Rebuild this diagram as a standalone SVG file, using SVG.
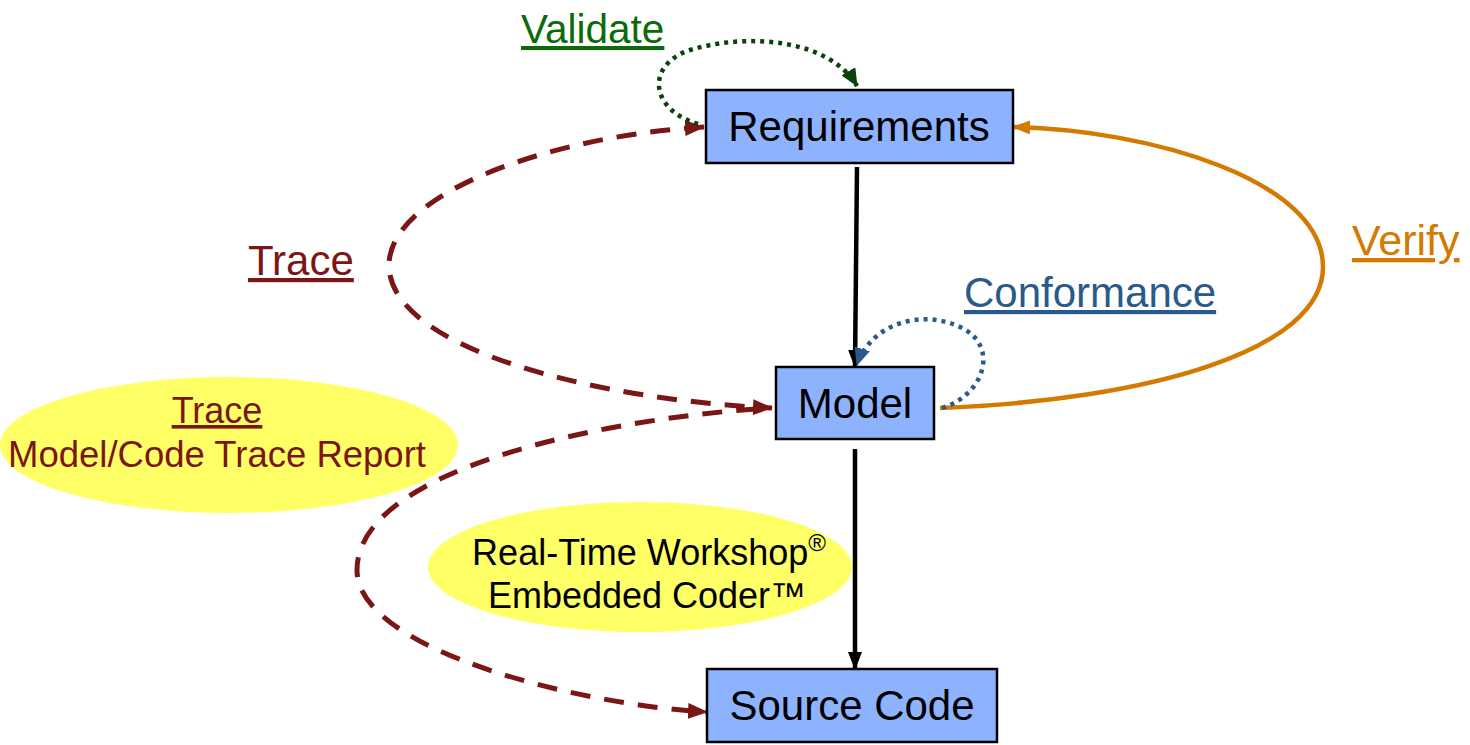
<svg xmlns="http://www.w3.org/2000/svg" width="1470" height="745" viewBox="0 0 1470 745">
  <style>
    .box { fill: #8DB3FF; stroke: #000; stroke-width: 2.5; }
    .lbl { font-family: "Liberation Sans", Arial, sans-serif; }
    .node { font-size: 42px; fill: #000; text-anchor: middle; }
    .ul { text-decoration: underline; }
    .blob { fill: #FFFF66; }
    .solid { fill: none; stroke: #000; stroke-width: 4.5; }
    .trace { fill: none; stroke: #7B1616; stroke-width: 5; stroke-dasharray: 20 14; }
    .verify { fill: none; stroke: #D47A00; stroke-width: 4.5; }
    .valid { fill: none; stroke: #0A420A; stroke-width: 4.5; stroke-dasharray: 4 5; }
    .conf { fill: none; stroke: #2A5A8A; stroke-width: 4.5; stroke-dasharray: 4 5; }
  </style>
  <defs>
    <marker id="ahBlack" viewBox="0 0 18 14" refX="17" refY="7" markerWidth="18" markerHeight="14" markerUnits="userSpaceOnUse" orient="auto">
      <path d="M0,0 L18,7 L0,14 z" fill="#000"/>
    </marker>
    <marker id="ahRed" viewBox="0 0 20 16" refX="19" refY="8" markerWidth="20" markerHeight="16" markerUnits="userSpaceOnUse" orient="auto">
      <path d="M0,0 L20,8 L0,16 z" fill="#7B1616"/>
    </marker>
    <marker id="ahRedStart" viewBox="0 0 20 16" refX="19" refY="8" markerWidth="20" markerHeight="16" markerUnits="userSpaceOnUse" orient="auto-start-reverse">
      <path d="M0,0 L20,8 L0,16 z" fill="#7B1616"/>
    </marker>
    <marker id="ahOrange" viewBox="0 0 18 14" refX="17" refY="7" markerWidth="18" markerHeight="14" markerUnits="userSpaceOnUse" orient="auto">
      <path d="M0,0 L18,7 L0,14 z" fill="#D47A00"/>
    </marker>
    <marker id="ahGreen" viewBox="0 0 18 16" refX="17" refY="8" markerWidth="18" markerHeight="16" markerUnits="userSpaceOnUse" orient="auto">
      <path d="M0,0 L18,8 L0,16 z" fill="#0A420A"/>
    </marker>
    <marker id="ahBlue" viewBox="0 0 18 16" refX="17" refY="8" markerWidth="18" markerHeight="16" markerUnits="userSpaceOnUse" orient="auto">
      <path d="M0,0 L18,8 L0,16 z" fill="#2A5A8A"/>
    </marker>
  </defs>

  <rect width="1470" height="745" fill="#fff"/>

  <!-- tool callouts -->
  <g id="traceReport">
    <ellipse class="blob" cx="229" cy="445" rx="229" ry="68"/>
    <text class="lbl ul" x="217" y="423" font-size="36" fill="#7B1616" text-anchor="middle">Trace</text>
    <text class="lbl" x="217" y="467" font-size="36.5" fill="#7B1616" text-anchor="middle">Model/Code Trace Report</text>
  </g>
  <g id="coder">
    <ellipse class="blob" cx="640" cy="567" rx="212" ry="65"/>
    <text class="lbl" x="649" y="565" font-size="36" fill="#000" text-anchor="middle">Real-Time Workshop<tspan font-size="24" dy="-14">®</tspan></text>
    <text class="lbl" x="647" y="608" font-size="36" fill="#000" text-anchor="middle">Embedded Coder™</text>
  </g>

  <!-- connectors -->
  <g id="connectors">
    <path class="solid" d="M857,167 L855,367" marker-end="url(#ahBlack)"/>
    <path class="solid" d="M855,449 L855,669" marker-end="url(#ahBlack)"/>
    <path class="trace" d="M704,127 C560,135 390,190 389,265 C389,350 600,400 772,408" marker-start="url(#ahRedStart)" marker-end="url(#ahRed)"/>
    <path class="trace" d="M756,409 C600,420 357,470 357,570 C357,650 580,705 707,712" marker-end="url(#ahRed)"/>
    <path class="verify" d="M940,408 C1150,400 1323,350 1323,267 C1323,180 1150,130 1013,127" marker-end="url(#ahOrange)"/>
    <path class="valid" d="M698,124 C650,110 645,65 690,50 C750,32 830,40 857,86" marker-end="url(#ahGreen)"/>
    <path class="conf" d="M942,408 C985,395 1000,345 960,327 C920,308 870,325 857,365" marker-end="url(#ahBlue)"/>
  </g>

  <!-- connector labels -->
  <g id="labels">
    <text class="lbl ul" x="521" y="43" font-size="40.5" fill="#0B6B0B">Validate</text>
    <text class="lbl ul" x="248" y="275" font-size="42" fill="#7B1616">Trace</text>
    <text class="lbl ul" x="964" y="307" font-size="42" fill="#2A5A8A">Conformance</text>
    <text class="lbl ul" x="1352" y="255" font-size="43" fill="#D47A00">Verify</text>
  </g>

  <!-- nodes -->
  <g id="requirements">
    <rect class="box" x="706" y="90" width="307" height="73"/>
    <text class="lbl node" x="859" y="141">Requirements</text>
  </g>
  <g id="model">
    <rect class="box" x="776" y="367" width="158" height="72"/>
    <text class="lbl node" x="855" y="418">Model</text>
  </g>
  <g id="sourceCode">
    <rect class="box" x="707" y="669" width="290" height="73"/>
    <text class="lbl node" x="852" y="720">Source Code</text>
  </g>
</svg>
